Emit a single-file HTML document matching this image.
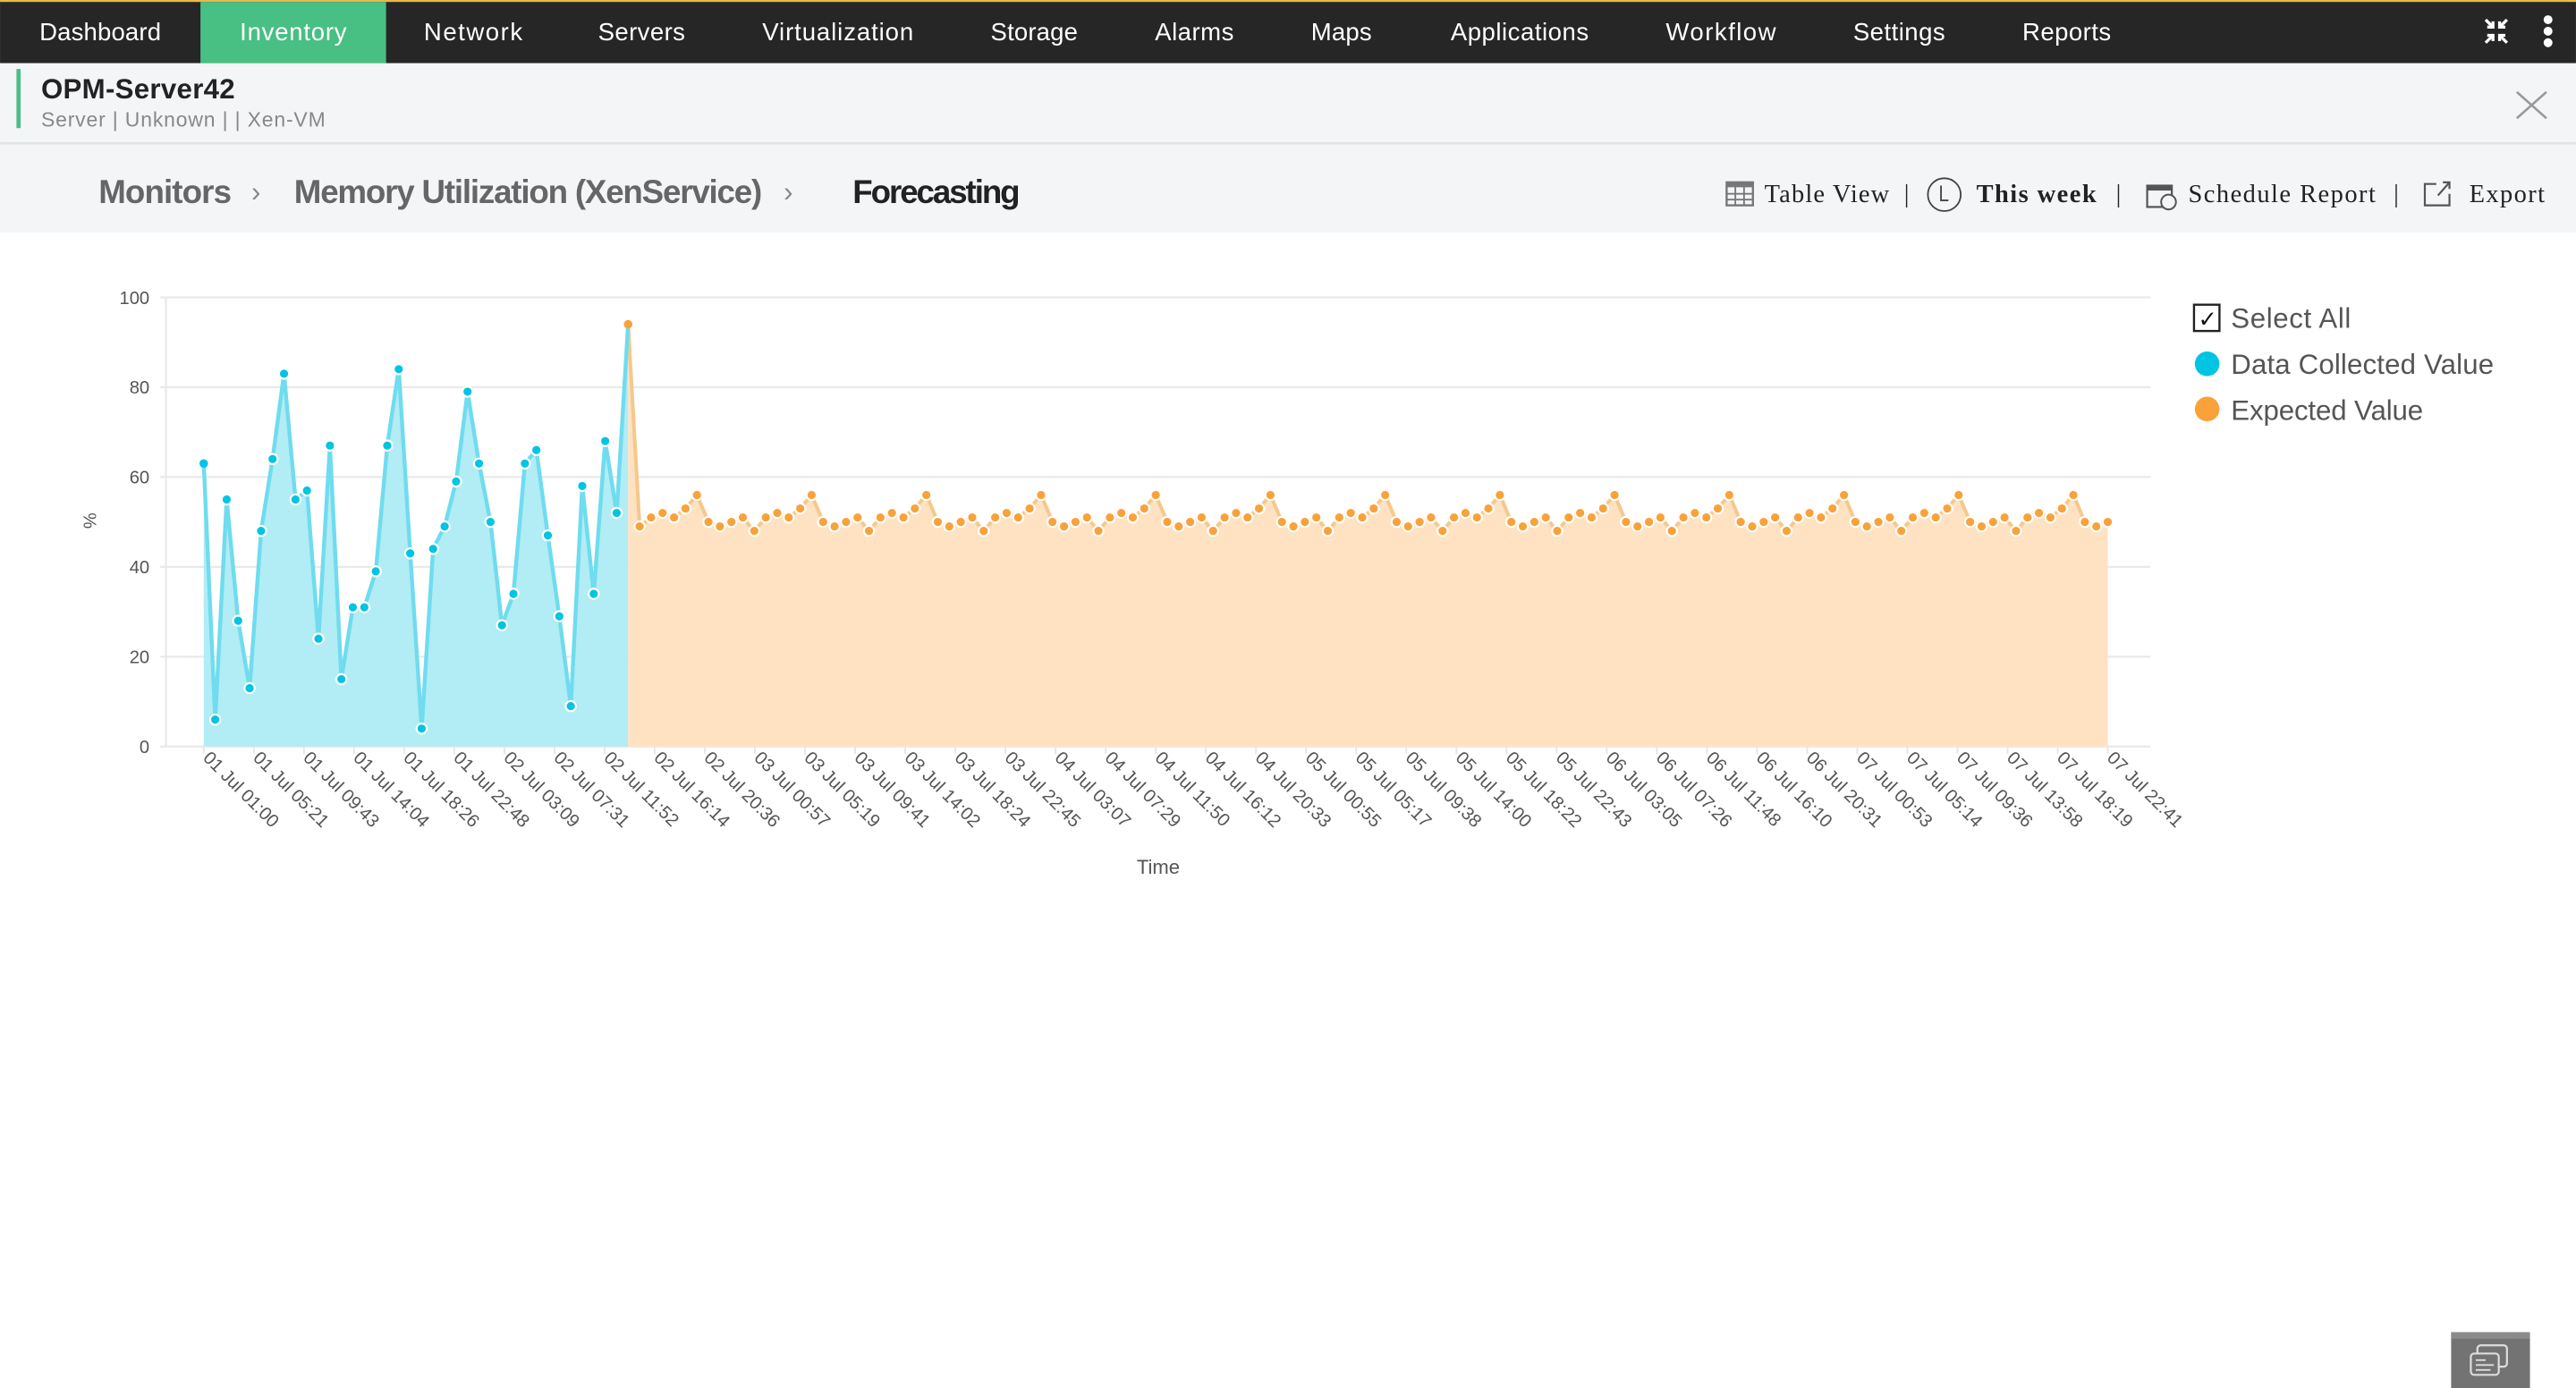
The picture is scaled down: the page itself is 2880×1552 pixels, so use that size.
<!DOCTYPE html>
<html><head><meta charset="utf-8"><style>
html,body{margin:0;padding:0;background:#fff;overflow:hidden}
svg{display:block}
text{font-family:"Liberation Sans",sans-serif}
.nav{fill:#fff;font-size:15px}
.tk{fill:#555;font-size:11px}
.srf{font-family:"Liberation Serif",serif;font-size:15.5px;fill:#222}
</style></head><body>
<svg width="2880" height="1552" viewBox="0 0 1568 845" xmlns="http://www.w3.org/2000/svg">
<rect x="0" y="0" width="1568" height="845" fill="#fff"/>
<!-- nav -->
<rect x="0" y="0" width="1568" height="38.5" fill="#262626"/>
<rect x="0" y="0" width="1568" height="1.2" fill="#e7b84c"/>
<rect x="122" y="1.2" width="113" height="37.3" fill="#48bf83"/>
<g class="nav">
<text x="24" y="24.5" textLength="74">Dashboard</text>
<text x="146" y="24.5" textLength="65">Inventory</text>
<text x="258" y="24.5" textLength="60">Network</text>
<text x="364" y="24.5" textLength="53">Servers</text>
<text x="464" y="24.5" textLength="92">Virtualization</text>
<text x="603" y="24.5" textLength="53">Storage</text>
<text x="703" y="24.5" textLength="48">Alarms</text>
<text x="798" y="24.5" textLength="37">Maps</text>
<text x="883" y="24.5" textLength="84">Applications</text>
<text x="1014" y="24.5" textLength="67">Workflow</text>
<text x="1128" y="24.5" textLength="56">Settings</text>
<text x="1231" y="24.5" textLength="54">Reports</text>
</g>
<g stroke="#fff" stroke-width="1.8" fill="none">
<path d="M1513 12 L1517.5 16.5 M1517.5 13 V16.5 H1514"/>
<path d="M1526 12 L1521.5 16.5 M1521.5 13 V16.5 H1525"/>
<path d="M1513 26 L1517.5 21.5 M1517.5 25 V21.5 H1514"/>
<path d="M1526 26 L1521.5 21.5 M1521.5 25 V21.5 H1525"/>
</g>
<circle cx="1551" cy="12" r="2.7" fill="#fff"/><circle cx="1551" cy="19" r="2.7" fill="#fff"/><circle cx="1551" cy="26" r="2.7" fill="#fff"/>
<!-- header -->
<rect x="0" y="38.5" width="1568" height="103" fill="#f4f5f7"/>
<rect x="0" y="86.5" width="1568" height="1.5" fill="#e1e2e5"/>
<rect x="10" y="42" width="2.5" height="36" fill="#48bf83"/>
<text x="25" y="60" style="font-size:17px;font-weight:bold;fill:#222" textLength="118">OPM-Server42</text>
<text x="25" y="77" style="font-size:12.5px;fill:#888" textLength="173">Server | Unknown |  | Xen-VM</text>
<path d="M1532 56 L1550 72 M1550 56 L1532 72" stroke="#999" stroke-width="1.4"/>
<text x="60" y="123.5" style="font-size:20px;font-weight:bold;fill:#666" textLength="81">Monitors</text>
<text x="153" y="122.5" style="font-size:17px;fill:#888">›</text>
<text x="179" y="123.5" style="font-size:20px;font-weight:bold;fill:#666" textLength="285">Memory Utilization (XenService)</text>
<text x="477" y="122.5" style="font-size:17px;fill:#888">›</text>
<text x="519" y="123.5" style="font-size:20px;font-weight:bold;fill:#222" textLength="102">Forecasting</text>
<!-- toolbar right -->
<g fill="#777"><rect x="1051" y="111" width="16" height="14" fill="none" stroke="#777" stroke-width="1.3"/><rect x="1051" y="111" width="16" height="3"/>
<path d="M1051 118 H1067 M1051 121.5 H1067 M1056.3 111 V125 M1061.6 111 V125" stroke="#777" stroke-width="1"/></g>
<text class="srf" x="1074" y="123" textLength="76">Table View</text>
<text class="srf" x="1159" y="123">|</text>
<circle cx="1183.5" cy="118.5" r="10" fill="none" stroke="#444" stroke-width="1"/>
<path d="M1181.5 113 V122 H1186" stroke="#444" stroke-width="1" fill="none"/>
<text class="srf" x="1203" y="123" style="font-weight:bold" textLength="73">This week</text>
<text class="srf" x="1288" y="123">|</text>
<rect x="1307" y="113" width="15" height="13" fill="none" stroke="#555" stroke-width="1.2"/>
<rect x="1307" y="113" width="15" height="3" fill="#555"/>
<circle cx="1320" cy="123" r="4.5" fill="#f4f5f7" stroke="#555" stroke-width="1.1"/>
<text class="srf" x="1332" y="123" textLength="114">Schedule Report</text>
<text class="srf" x="1457" y="123">|</text>
<path d="M1483 112 H1476 V125 H1491 V118" fill="none" stroke="#555" stroke-width="1.2"/>
<path d="M1484 119 L1491 111 M1487 111 H1491 V115" fill="none" stroke="#555" stroke-width="1.2"/>
<text class="srf" x="1503" y="123" textLength="46">Export</text>
<!-- chart grid -->
<g stroke="#e9e9e9" stroke-width="1.2">
<line x1="97.5" x2="1309" y1="181" y2="181"/>
<line x1="97.5" x2="1309" y1="235.7" y2="235.7"/>
<line x1="97.5" x2="1309" y1="290.4" y2="290.4"/>
<line x1="97.5" x2="1309" y1="345.1" y2="345.1"/>
<line x1="97.5" x2="1309" y1="399.8" y2="399.8"/>
<line x1="97.5" x2="1309" y1="454.5" y2="454.5"/>
<line x1="101" x2="101" y1="181" y2="454.5"/>
</g>
<g class="tk" text-anchor="end">
<text x="91" y="185">100</text><text x="91" y="239.7">80</text><text x="91" y="294.4">60</text>
<text x="91" y="349.1">40</text><text x="91" y="403.8">20</text><text x="91" y="458.5">0</text>
</g>
<text class="tk" x="0" y="0" transform="translate(51 317) rotate(90)" text-anchor="middle">%</text>
<text class="tk" x="705" y="532" text-anchor="middle" style="font-size:12px">Time</text>
<g id="series"></g>
<g id="ticks" stroke="#e6e6e6" stroke-width="1"></g>
<g class="tk" id="xl">
<text transform="translate(123 462) rotate(45)">01 Jul 01:00</text>
<text transform="translate(153.5 462) rotate(45)">01 Jul 05:21</text>
<text transform="translate(184 462) rotate(45)">01 Jul 09:43</text>
<text transform="translate(214.5 462) rotate(45)">01 Jul 14:04</text>
<text transform="translate(245 462) rotate(45)">01 Jul 18:26</text>
<text transform="translate(275.5 462) rotate(45)">01 Jul 22:48</text>
<text transform="translate(306 462) rotate(45)">02 Jul 03:09</text>
<text transform="translate(336.5 462) rotate(45)">02 Jul 07:31</text>
<text transform="translate(367 462) rotate(45)">02 Jul 11:52</text>
<text transform="translate(397.5 462) rotate(45)">02 Jul 16:14</text>
<text transform="translate(428 462) rotate(45)">02 Jul 20:36</text>
<text transform="translate(458.5 462) rotate(45)">03 Jul 00:57</text>
<text transform="translate(489 462) rotate(45)">03 Jul 05:19</text>
<text transform="translate(519.5 462) rotate(45)">03 Jul 09:41</text>
<text transform="translate(550 462) rotate(45)">03 Jul 14:02</text>
<text transform="translate(580.5 462) rotate(45)">03 Jul 18:24</text>
<text transform="translate(611 462) rotate(45)">03 Jul 22:45</text>
<text transform="translate(641.5 462) rotate(45)">04 Jul 03:07</text>
<text transform="translate(672 462) rotate(45)">04 Jul 07:29</text>
<text transform="translate(702.5 462) rotate(45)">04 Jul 11:50</text>
<text transform="translate(733 462) rotate(45)">04 Jul 16:12</text>
<text transform="translate(763.5 462) rotate(45)">04 Jul 20:33</text>
<text transform="translate(794 462) rotate(45)">05 Jul 00:55</text>
<text transform="translate(824.5 462) rotate(45)">05 Jul 05:17</text>
<text transform="translate(855 462) rotate(45)">05 Jul 09:38</text>
<text transform="translate(885.5 462) rotate(45)">05 Jul 14:00</text>
<text transform="translate(916 462) rotate(45)">05 Jul 18:22</text>
<text transform="translate(946.5 462) rotate(45)">05 Jul 22:43</text>
<text transform="translate(977 462) rotate(45)">06 Jul 03:05</text>
<text transform="translate(1007.5 462) rotate(45)">06 Jul 07:26</text>
<text transform="translate(1038 462) rotate(45)">06 Jul 11:48</text>
<text transform="translate(1068.5 462) rotate(45)">06 Jul 16:10</text>
<text transform="translate(1099 462) rotate(45)">06 Jul 20:31</text>
<text transform="translate(1129.5 462) rotate(45)">07 Jul 00:53</text>
<text transform="translate(1160 462) rotate(45)">07 Jul 05:14</text>
<text transform="translate(1190.5 462) rotate(45)">07 Jul 09:36</text>
<text transform="translate(1221 462) rotate(45)">07 Jul 13:58</text>
<text transform="translate(1251.5 462) rotate(45)">07 Jul 18:19</text>
<text transform="translate(1282 462) rotate(45)">07 Jul 22:41</text>
</g>
<!-- legend -->
<rect x="1335.5" y="185.5" width="15.5" height="16" fill="#fff" stroke="#222" stroke-width="1.3"/>
<text x="1338" y="199" style="font-size:14px;fill:#111">✓</text>
<text x="1358" y="199.5" style="font-size:17px;fill:#555" textLength="73">Select All</text>
<circle cx="1343.5" cy="221.5" r="7.5" fill="#00c4e4"/>
<text x="1358" y="227.5" style="font-size:17px;fill:#555" textLength="160">Data Collected Value</text>
<circle cx="1343.5" cy="249" r="7.5" fill="#f9a23a"/>
<text x="1358" y="255.5" style="font-size:17px;fill:#555" textLength="117">Expected Value</text>
<!-- chat -->
<rect x="1492" y="811" width="48" height="34" fill="#737373"/>
<rect x="1492" y="811" width="48" height="4" fill="#8a8a8a"/>
<rect x="1508" y="819" width="18" height="13" rx="2" fill="none" stroke="#ddd" stroke-width="1.2"/>
<rect x="1504" y="824" width="17" height="13" rx="2" fill="#737373" stroke="#ddd" stroke-width="1.2"/>
<path d="M1507 828 H1513 M1507 831 H1518 M1507 834 H1516" stroke="#ddd" stroke-width="1"/>
<script>
(function(){
var ns="http://www.w3.org/2000/svg";
var blue=[63,6,55,28,13,48,64,83,55,57,24,67,15,31,31,39,67,84,43,4,44,49,59,79,63,50,27,34,63,66,47,29,9,58,34,68,52,94];
var P=[51,52,51,53,56,50,49,50,51,48];
var vals=blue.slice();vals.push(49);
for(var i=39;i<=166;i++)vals.push(P[(i-39)%10]);
var x0=124,dx=6.982,y0=454.5,k=2.735;
function X(i){return x0+i*dx}function Y(v){return y0-v*k}
var g=document.getElementById("series");
function el(n,a){var e=document.createElementNS(ns,n);for(var q in a)e.setAttribute(q,a[q]);g.appendChild(e);return e}
var bl="",ol="";
for(var i=0;i<=37;i++)bl+=(i?"L":"M")+X(i).toFixed(2)+" "+Y(vals[i]).toFixed(2)+" ";
for(var i=37;i<=166;i++)ol+=(i>37?"L":"M")+X(i).toFixed(2)+" "+Y(vals[i]).toFixed(2)+" ";
el("path",{d:bl+"L"+X(37)+" "+y0+" L"+X(0)+" "+y0+" Z",fill:"#b2ecf5"});
el("path",{d:ol+"L"+X(166)+" "+y0+" L"+X(37)+" "+y0+" Z",fill:"#fee2c2"});
el("path",{d:ol,fill:"none",stroke:"#f6c88c","stroke-width":"2.2"});
el("path",{d:bl,fill:"none",stroke:"#6fdcef","stroke-width":"2.4","stroke-linejoin":"round"});
for(var i=0;i<=166;i++){
 el("circle",{cx:X(i),cy:Y(vals[i]),r:(i==0||i==37)?2.6:3.1,fill:i<37?"#00c4e4":"#f9a23a",stroke:(i==0||i==37)?"none":"#fff","stroke-width":"1.2"});
}
var t=document.getElementById("ticks");
for(var j=0;j<39;j++){var l=document.createElementNS(ns,"line");var xx=124+j*30.5;l.setAttribute("x1",xx);l.setAttribute("x2",xx);l.setAttribute("y1",454.5);l.setAttribute("y2",459);t.appendChild(l);}
})();
</script>
</svg>
</body></html>
